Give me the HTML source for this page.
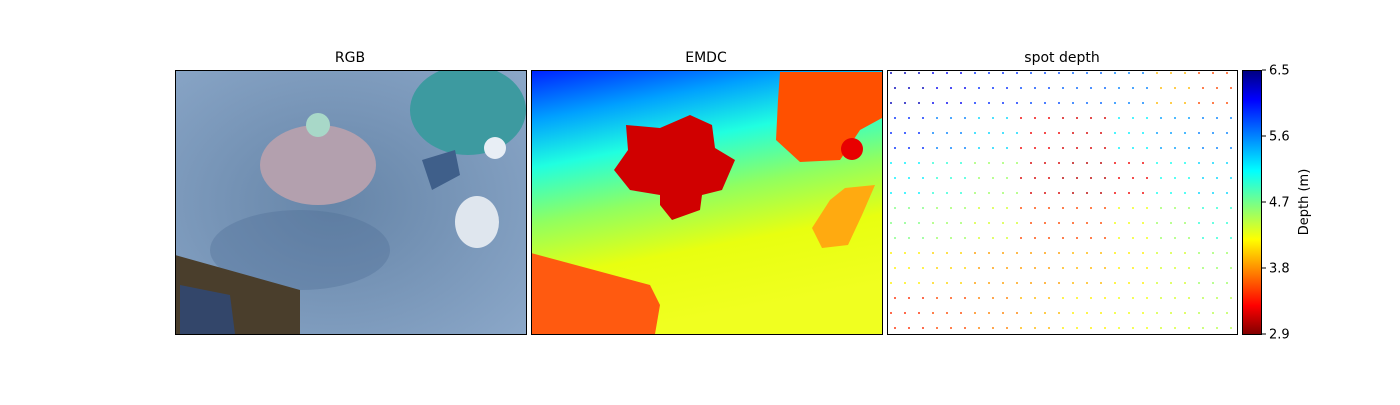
<!DOCTYPE html>
<html><head><meta charset="utf-8"><style>
body{margin:0;background:#fff;width:1400px;height:400px;overflow:hidden;font-family:"Liberation Sans","DejaVu Sans",sans-serif}
svg text{font-family:"DejaVu Sans","Liberation Sans",sans-serif}
</style></head><body>
<svg id="fig" width="1400" height="400" viewBox="0 0 1400 400" xmlns="http://www.w3.org/2000/svg">
<defs>
<linearGradient id="jet" x1="0" y1="1" x2="0" y2="0">
<stop offset="0" stop-color="#800000"/><stop offset="0.11" stop-color="#ff0000"/><stop offset="0.36" stop-color="#ffff00"/><stop offset="0.62" stop-color="#00ffff"/><stop offset="0.89" stop-color="#0000ff"/><stop offset="1" stop-color="#000080"/>
</linearGradient>
<linearGradient id="emdcBg" x1="0" y1="0" x2="0.25" y2="1">
<stop offset="0" stop-color="#0020ff"/><stop offset="0.18" stop-color="#00a0ff"/><stop offset="0.35" stop-color="#20ffe0"/><stop offset="0.55" stop-color="#90ff60"/><stop offset="0.75" stop-color="#e8ff10"/><stop offset="1" stop-color="#f0ff20"/>
</linearGradient>
<radialGradient id="rgbBg" cx="0.45" cy="0.5" r="0.8">
<stop offset="0" stop-color="#6685a8"/><stop offset="1" stop-color="#8eaacb"/>
</radialGradient>
<clipPath id="c1"><rect x="175" y="70" width="351" height="264"/></clipPath>
<clipPath id="c2"><rect x="531" y="70" width="351" height="264"/></clipPath>
</defs>

<text x="350" y="62" font-size="14" text-anchor="middle">RGB</text>
<text x="706" y="62" font-size="14" text-anchor="middle">EMDC</text>
<text x="1062" y="62" font-size="14" text-anchor="middle">spot depth</text>

<g clip-path="url(#c1)">
<rect x="175" y="70" width="351" height="264" fill="url(#rgbBg)"/>
<ellipse cx="300" cy="250" rx="90" ry="40" fill="#4d6d94" opacity="0.35"/>
<path d="M175,255 L300,290 L300,334 L175,334Z" fill="#4a3e2c"/>
<path d="M180,285 L230,295 L235,334 L180,334Z" fill="#33466a"/>
<ellipse cx="318" cy="165" rx="58" ry="40" fill="#b3a0ae"/>
<circle cx="318" cy="125" r="12" fill="#a8d8c8"/>
<ellipse cx="468" cy="110" rx="58" ry="45" fill="#3d9aa0"/>
<path d="M422,160 L455,150 L460,175 L432,190Z" fill="#3f5f8a"/>
<ellipse cx="477" cy="222" rx="22" ry="26" fill="#dfe6ee"/>
<circle cx="495" cy="148" r="11" fill="#e8eef5"/>
</g>
<rect x="175.5" y="70.5" width="351" height="264" fill="none" stroke="#000"/>

<g clip-path="url(#c2)">
<rect x="531" y="70" width="351" height="264" fill="url(#emdcBg)"/>
<path d="M531,253 L650,285 L660,305 L655,334 L531,334Z" fill="#ff5a10"/>
<path d="M626,125 L660,128 L690,115 L712,125 L715,148 L735,160 L722,190 L702,195 L700,210 L672,220 L660,205 L660,195 L630,190 L614,170 L628,150Z" fill="#d00000"/>
<path d="M780,72 L882,72 L882,118 L860,130 L840,160 L800,162 L776,140 L778,100Z" fill="#ff5000"/>
<circle cx="852" cy="149" r="11" fill="#e80000"/>
<path d="M845,188 L875,185 L862,215 L848,245 L822,248 L812,228 L830,200Z" fill="#ffaa10"/>
</g>
<rect x="531.5" y="70.5" width="351" height="264" fill="none" stroke="#000"/>

<g id="spots"></g>
<rect x="887.5" y="70.5" width="350" height="264" fill="none" stroke="#000"/>

<rect x="1242.5" y="70.5" width="19" height="264" fill="url(#jet)" stroke="#000"/>
<g id="cbticks"></g>
<text transform="translate(1308,202) rotate(-90)" font-size="13" text-anchor="middle">Depth (m)</text>
</svg>
<script>
const tickLabels=["2.9","3.8","4.7","5.6","6.5"];
const tickValues=[2.9,3.8,4.7,5.6,6.5];
const vmin=2.9, vmax=6.5;
const depthRows=[
[6.3,6.1,5.9,5.8,5.7,5.6,4.0,3.6],
[5.9,5.6,5.3,3.3,3.2,5.2,5.5,5.6],
[5.2,5.0,4.6,3.2,3.1,3.3,5.1,5.3],
[4.7,4.6,4.4,3.6,3.6,4.3,4.6,5.0],
[4.2,4.1,3.9,3.9,4.0,4.2,4.4,4.6],
[3.5,3.6,3.8,4.0,4.2,4.3,4.4,4.5]];
const NS="http://www.w3.org/2000/svg";
const px0=887,py0=70,pw=350,ph=264;
function cbY(v){return 334-(v-vmin)/(vmax-vmin)*264;}
function jet(t){
 const r=Math.min(1,Math.max(0,1.5-Math.abs(4*t-3)));
 const g=Math.min(1,Math.max(0,1.5-Math.abs(4*t-2)));
 const b=Math.min(1,Math.max(0,1.5-Math.abs(4*t-1)));
 return `rgb(${Math.round(r*255)},${Math.round(g*255)},${Math.round(b*255)})`;}
function depthColor(d){return jet(1-(d-vmin)/(vmax-vmin));}
const tg=document.getElementById('cbticks');
tickValues.forEach((v,i)=>{
 const y=cbY(v);
 const l=document.createElementNS(NS,'line');
 
 
 l.setAttribute('x1',1262);l.setAttribute('x2',1266);l.setAttribute('y1',y);l.setAttribute('y2',y);l.setAttribute('stroke','#000');
 tg.appendChild(l);
 const t=document.createElementNS(NS,'text');
 
 
 t.setAttribute('x',1269);t.setAttribute('y',y+4.5);t.setAttribute('font-size','13');
 t.textContent=tickLabels[i];tg.appendChild(t);
});
const sg=document.getElementById('spots');
const nr=depthRows.length, nc=depthRows[0].length;
for(let j=0;j<18;j++){for(let i=0;i<25;i++){
 const x=px0+4+i*14+(j%2)*4, y=py0+3+j*15;
 if(x>px0+pw-2||y>py0+ph-2)continue;
 const r=Math.min(nr-1,Math.floor((y-py0)/ph*nr)), c=Math.min(nc-1,Math.floor((x-px0)/pw*nc));
 const d=depthRows[r][c];
 const p=document.createElementNS(NS,'rect');
 
 
 p.setAttribute('x',x-1);p.setAttribute('y',y-1);p.setAttribute('width',2);p.setAttribute('height',2);
 p.setAttribute('fill',depthColor(d));p.setAttribute('opacity','0.7');
 sg.appendChild(p);
}}
</script>
</body></html>
